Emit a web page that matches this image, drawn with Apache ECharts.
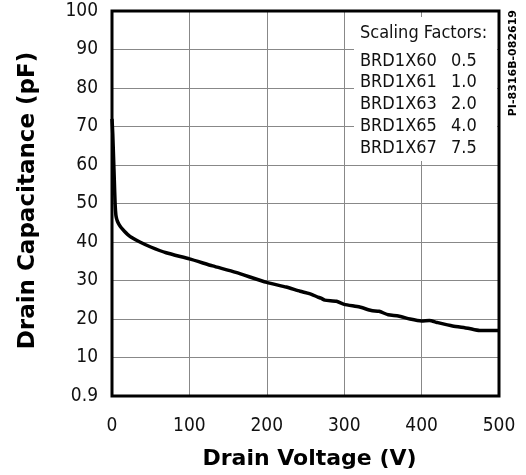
<!DOCTYPE html>
<html lang="en">
<head>
	<meta charset="UTF-8">
	<title>Drain Capacitance</title>
	<style>body{margin:0;background:#fff}</style>
</head>
<body>
	<div id="cap_chart" style="width:526px;height:475px;"></div>
	<script src="https://cdn.jsdelivr.net/npm/echarts@6/dist/echarts.min.js"></script>
	<script>
	// drain voltage (V) / drain capacitance (pF)
	var voltage = [0, 1, 2, 3, 4, 5, 6, 7, 9, 12, 16, 20, 26, 36, 50, 70, 100, 130, 160, 200, 225, 243, 255, 266, 270, 275, 290, 300, 320, 335, 345, 357, 370, 385, 400, 410, 420, 440, 460, 475, 490, 500];
	var capacitance = [72, 68, 62, 56, 50, 47, 46, 45.4, 44.6, 43.7, 42.8, 42, 41.1, 40, 38.7, 37.2, 35.6, 33.8, 32.1, 29.5, 28.3, 27.2, 26.6, 25.7, 25.4, 24.9, 24.6, 23.8, 23.1, 22.2, 22.0, 21.1, 20.8, 20.0, 19.5, 19.6, 19.1, 18.2, 17.6, 17.0, 17.0, 17.0];
	var yTickLabels = ['0.9', '10', '20', '30', '40', '50', '60', '70', '80', '90', '100'];
	var scaleParts = ['BRD1X60', 'BRD1X61', 'BRD1X63', 'BRD1X65', 'BRD1X67'];
	var scaleValues = ['0.5', '1.0', '2.0', '4.0', '7.5'];

	var font = '"DejaVu Sans Condensed", "Liberation Sans", sans-serif';
	var boldFont = '"DejaVu Sans", sans-serif';
	var pts = [];
	for (var i = 0; i < voltage.length; i++) pts.push([voltage[i], capacitance[i]]);

	var graphics = [
		{type: 'rect', left: 354, top: 17, shape: {width: 143, height: 144}, style: {fill: '#fff'}, z: 1},
		{type: 'text', x: 360, y: 33, z: 2, style: {text: 'Scaling Factors:', font: '18px ' + font, fill: '#111', verticalAlign: 'middle'}},
		{type: 'text', left: 508, top: 10, rotation: Math.PI / 2, z: 2,
			style: {text: 'PI-8316B-082619', font: 'bold 11px ' + boldFont, fill: '#000'}}
	];
	for (var j = 0; j < scaleParts.length; j++) {
		graphics.push({type: 'text', x: 360, y: 61 + j * 21.8, z: 2, style: {text: scaleParts[j], font: '18px ' + font, fill: '#111', verticalAlign: 'middle'}});
		graphics.push({type: 'text', x: 451, y: 61 + j * 21.8, z: 2, style: {text: scaleValues[j], font: '18px ' + font, fill: '#111', verticalAlign: 'middle'}});
	}

	var chart = echarts.init(document.getElementById('cap_chart'));
	chart.setOption({
		animation: false,
		grid: {left: 112, right: 27, top: 11, bottom: 74, show: true, borderColor: '#000', borderWidth: 3, z: 3},
		xAxis: {
			type: 'value', min: 0, max: 500, interval: 100,
			name: 'Drain Voltage (V)', nameLocation: 'middle', nameGap: 52,
			nameTextStyle: {fontFamily: boldFont, fontWeight: 'bold', fontSize: 22, color: '#000', padding: [0, 0, 0, 8]},
			axisLine: {show: false}, axisTick: {show: false},
			axisLabel: {fontFamily: font, fontSize: 19, color: '#111', margin: 21},
			splitLine: {lineStyle: {color: '#888', width: 1}}
		},
		yAxis: {
			type: 'value', min: 0, max: 100, interval: 10,
			name: 'Drain Capacitance (pF)', nameLocation: 'middle', nameGap: 72,
			nameTextStyle: {fontFamily: boldFont, fontWeight: 'bold', fontSize: 23, color: '#000', padding: [0, 0, 0, 6]},
			axisLine: {show: false}, axisTick: {show: false},
			axisLabel: {fontFamily: font, fontSize: 19, color: '#111', margin: 14,
				formatter: function (v) { return yTickLabels[Math.round(v / 10)]; }},
			splitLine: {lineStyle: {color: '#888', width: 1}}
		},
		graphic: graphics,
		series: [{
			type: 'line', data: pts, symbol: 'none', smooth: 0.2, z: 4,
			lineStyle: {color: '#000', width: 3.5}
		}]
	});
	</script>
</body>
</html>
